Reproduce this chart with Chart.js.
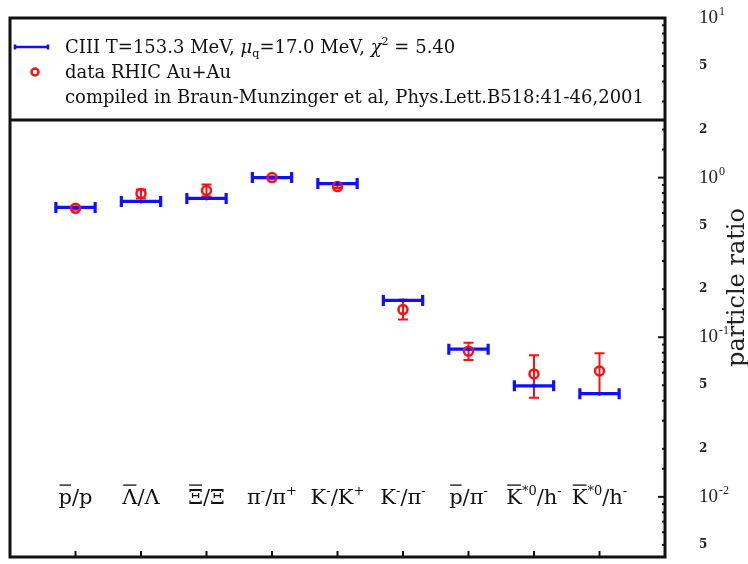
<!DOCTYPE html>
<html>
<head>
<meta charset="utf-8">
<script src="https://cdn.jsdelivr.net/npm/chart.js@4.4.1/dist/chart.umd.min.js"></script>
<style>
html, body { margin: 0; padding: 0; background: #fff; }
canvas { display: block; }
</style>
</head>
<body>
<canvas id="ratioChart" width="748" height="564"></canvas>
<script>
// particle ratios: ^{..} superscript, _{..} subscript, ~{..} overbar, @{..} italic
var categories = ['~{p}/p', '~{Λ}/Λ', '~{Ξ}/Ξ', 'π^{-}/π^{+}', 'K^{-}/K^{+}', 'K^{-}/π^{-}', '~{p}/π^{-}', '~{K}^{*0}/h^{-}', '~{K}^{*0}/h^{-}'];

// thermal model fit
var modelValues = [0.651, 0.709, 0.741, 1.0, 0.918, 0.170, 0.0842, 0.0496, 0.0443];

// measured ratios with lower / upper error
var dataValues = [0.642, 0.795, 0.830, 1.0, 0.879, 0.149, 0.0818, 0.0589, 0.0615];
var dataLow    = [0.628, 0.741, 0.762, 0.985, 0.862, 0.129, 0.0720, 0.0418, 0.0443];
var dataHigh   = [0.656, 0.842, 0.905, 1.015, 0.896, 0.172, 0.0923, 0.0772, 0.0794];

var modelLabel = 'CIII T=153.3 MeV, @{μ}_{q}=17.0 MeV, @{χ}^{2} = 5.40';
var dataLabel = 'data RHIC Au+Au';
var sourceNote = 'compiled in Braun-Munzinger et al, Phys.Lett.B518:41-46,2001';

var yMin = 0.0042, yMax = 10;
var BLUE = '#1010ff', RED = '#ff1010', INK = '#111';
var FONT = '"DejaVu Serif"';
var binHalf = 0.3;
var tickPad = 34;

function parseRich(s) {
    var parts = [], buf = '';
    for (var i = 0; i < s.length; i++) {
        var c = s[i];
        if ('^_~@'.indexOf(c) >= 0 && s[i + 1] === '{') {
            if (buf) { parts.push({ t: buf }); buf = ''; }
            var end = s.indexOf('}', i);
            var p = { t: s.slice(i + 2, end) };
            if (c === '^') p.sup = true;
            if (c === '_') p.sub = true;
            if (c === '~') p.bar = true;
            if (c === '@') p.it = true;
            parts.push(p);
            i = end;
        } else {
            buf += c;
        }
    }
    if (buf) parts.push({ t: buf });
    return parts;
}

function partFont(p, size) {
    var sz = (p.sup || p.sub) ? size * 0.62 : size;
    return (p.it ? 'italic ' : '') + sz + 'px ' + FONT;
}

function drawRich(ctx, s, x, y, size, align) {
    var parts = parseRich(s);
    var w = 0;
    parts.forEach(function (p) { ctx.font = partFont(p, size); w += ctx.measureText(p.t).width; });
    if (align === 'center') x -= w / 2;
    ctx.textAlign = 'left';
    ctx.textBaseline = 'alphabetic';
    parts.forEach(function (p) {
        ctx.font = partFont(p, size);
        var dy = p.sup ? -size * 0.45 : (p.sub ? size * 0.22 : 0);
        ctx.fillText(p.t, x, y + dy);
        var pw = ctx.measureText(p.t).width;
        if (p.bar) {
            ctx.save();
            ctx.lineWidth = 1.3;
            ctx.strokeStyle = ctx.fillStyle;
            ctx.beginPath();
            ctx.moveTo(x + 1, y - size * 0.9);
            ctx.lineTo(x + pw - 1, y - size * 0.9);
            ctx.stroke();
            ctx.restore();
        }
        x += pw;
    });
}

function mantissa(v) {
    var e = Math.floor(Math.log10(v) + 1e-9);
    return { m: v / Math.pow(10, e), e: e };
}

function isDecade(v) {
    return Math.abs(mantissa(v).m - 1) < 1e-6;
}

function isMinorLabel(v) {
    var m = mantissa(v).m;
    return Math.abs(m - 2) < 1e-6 || Math.abs(m - 5) < 1e-6;
}

function noPadding(s) {
    s.paddingLeft = 0; s.paddingRight = 0; s.paddingTop = 0; s.paddingBottom = 0;
}

var decor = {
    id: 'decor',
    beforeDatasetsDraw: function (chart) {
        var ctx = chart.ctx, x = chart.scales.x, y = chart.scales.y;
        ctx.save();
        // measured error bars
        ctx.strokeStyle = RED;
        ctx.lineWidth = 2;
        dataValues.forEach(function (v, i) {
            var px = x.getPixelForValue(i + 1);
            var lo = y.getPixelForValue(dataLow[i]), hi = y.getPixelForValue(dataHigh[i]);
            ctx.beginPath();
            ctx.moveTo(px, lo); ctx.lineTo(px, hi);
            ctx.moveTo(px - 5, lo); ctx.lineTo(px + 5, lo);
            ctx.moveTo(px - 5, hi); ctx.lineTo(px + 5, hi);
            ctx.stroke();
        });
        // model bins
        ctx.strokeStyle = BLUE;
        ctx.lineWidth = 3.2;
        modelValues.forEach(function (v, i) {
            var xl = x.getPixelForValue(i + 1 - binHalf), xr = x.getPixelForValue(i + 1 + binHalf);
            var py = y.getPixelForValue(v);
            ctx.beginPath();
            ctx.moveTo(xl, py); ctx.lineTo(xr, py);
            ctx.moveTo(xl, py - 5.5); ctx.lineTo(xl, py + 5.5);
            ctx.moveTo(xr, py - 5.5); ctx.lineTo(xr, py + 5.5);
            ctx.stroke();
        });
        ctx.restore();
    },
    afterDraw: function (chart) {
        var ctx = chart.ctx, a = chart.chartArea, x = chart.scales.x, y = chart.scales.y;
        ctx.save();
        ctx.strokeStyle = INK;
        ctx.fillStyle = INK;

        // inner ticks on the right axis, plus exponents for the decade labels
        ctx.lineWidth = 2;
        y.ticks.forEach(function (t) {
            var py = y.getPixelForValue(t.value);
            if (py < a.top - 1 || py > a.bottom + 1) return;
            var major = isDecade(t.value);
            ctx.beginPath();
            ctx.moveTo(a.right - (major ? 7 : 3), py); ctx.lineTo(a.right, py);
            ctx.stroke();
            if (major) {
                ctx.font = '19px "Liberation Serif"';
                var w10 = ctx.measureText('10').width;
                ctx.font = '12px "Liberation Serif"';
                ctx.textAlign = 'left';
                ctx.textBaseline = 'alphabetic';
                ctx.fillStyle = '#222';
                ctx.fillText(String(mantissa(t.value).e), a.right + tickPad + w10 + 1, py - 3);
            }
        });
        // category ticks on the bottom axis
        categories.forEach(function (c, i) {
            var px = x.getPixelForValue(i + 1);
            ctx.beginPath();
            ctx.moveTo(px, a.bottom); ctx.lineTo(px, a.bottom - 6);
            ctx.stroke();
        });

        // frame and legend divider
        ctx.lineWidth = 3;
        ctx.strokeRect(a.left, a.top, a.right - a.left, a.bottom - a.top);
        ctx.beginPath();
        ctx.moveTo(a.left, a.top + 102); ctx.lineTo(a.right, a.top + 102);
        ctx.stroke();

        // legend
        var lx = a.left + 5, ly = a.top + 29;
        ctx.strokeStyle = BLUE;
        ctx.lineWidth = 2.5;
        ctx.beginPath();
        ctx.moveTo(lx, ly); ctx.lineTo(lx + 33, ly);
        ctx.moveTo(lx, ly - 2.5); ctx.lineTo(lx, ly + 2.5);
        ctx.moveTo(lx + 33, ly - 2.5); ctx.lineTo(lx + 33, ly + 2.5);
        ctx.stroke();
        ctx.strokeStyle = RED;
        ctx.beginPath();
        ctx.arc(lx + 20, ly + 25, 3.5, 0, Math.PI * 2);
        ctx.stroke();
        ctx.fillStyle = INK;
        drawRich(ctx, modelLabel, a.left + 55, ly + 6, 18);
        drawRich(ctx, dataLabel, a.left + 55, ly + 31, 18);
        drawRich(ctx, sourceNote, a.left + 55, ly + 56, 18);

        // category labels
        categories.forEach(function (c, i) {
            drawRich(ctx, c, x.getPixelForValue(i + 1), a.bottom - 53, 21, 'center');
        });

        // axis title
        ctx.translate(738, (a.top + a.bottom) / 2);
        ctx.rotate(-Math.PI / 2);
        ctx.font = '24px ' + FONT;
        ctx.textAlign = 'center';
        ctx.textBaseline = 'middle';
        ctx.fillStyle = '#222';
        ctx.fillText('particle ratio', 0, 0);
        ctx.restore();
    }
};

var ctx = document.getElementById('ratioChart').getContext('2d');
var ratioChart = new Chart(ctx, {
    type: 'scatter',
    data: {
        datasets: [{
            label: modelLabel,
            data: modelValues.map(function (v, i) { return { x: i + 1, y: v }; }),
            pointRadius: 2,
            pointBorderWidth: 0,
            backgroundColor: BLUE,
            borderColor: BLUE
        }, {
            label: dataLabel,
            data: dataValues.map(function (v, i) { return { x: i + 1, y: v }; }),
            pointRadius: 4.5,
            pointBorderWidth: 2.5,
            borderColor: RED,
            backgroundColor: 'rgba(0,0,0,0)'
        }]
    },
    options: {
        responsive: false,
        animation: false,
        devicePixelRatio: 1,
        layout: { padding: { left: 10, top: 18, right: 0, bottom: 3 } },
        plugins: {
            legend: { display: false },
            tooltip: { enabled: false }
        },
        scales: {
            x: {
                type: 'linear',
                min: 0,
                max: 10,
                grid: { display: false, drawTicks: false },
                border: { display: false },
                ticks: { display: false },
                afterFit: function (s) { s.height = 0; noPadding(s); }
            },
            y: {
                type: 'logarithmic',
                position: 'right',
                min: yMin,
                max: yMax,
                grid: { display: false, drawTicks: false },
                border: { display: false },
                ticks: {
                    autoSkip: false,
                    padding: tickPad,
                    color: '#222',
                    font: function (c) {
                        var v = c.tick ? c.tick.value : 1;
                        if (isDecade(v)) return { family: '"Liberation Serif"', size: 19 };
                        if (isMinorLabel(v)) return { family: 'DejaVu Serif', size: 12, weight: 'bold' };
                        // unlabelled ticks take no room in the layout
                        return { family: 'DejaVu Serif', size: 1 };
                    },
                    callback: function (v) {
                        if (isDecade(v)) return '10';
                        if (isMinorLabel(v)) return String(Math.round(mantissa(v).m));
                        return '';
                    }
                },
                afterFit: function (s) { s.width = 83; noPadding(s); }
            }
        }
    },
    plugins: [decor]
});
</script>
</body>
</html>
